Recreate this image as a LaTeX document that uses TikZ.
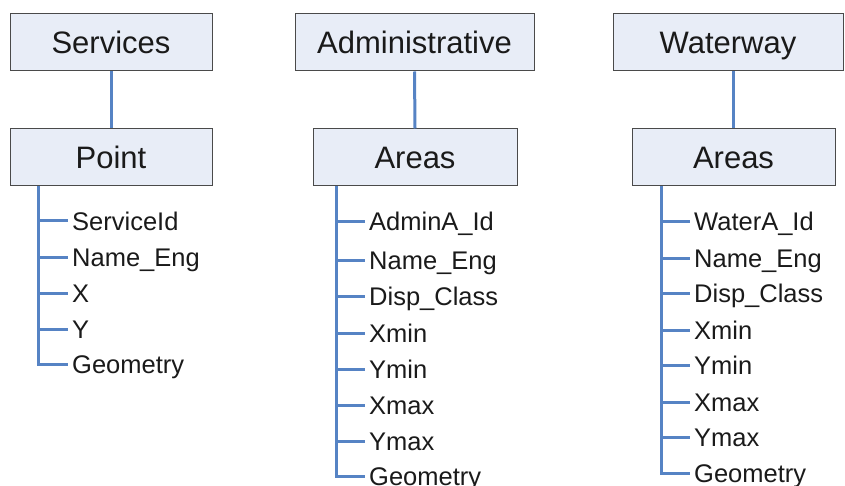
\documentclass[tikz,border=0pt]{standalone}
\usepackage{fontspec}
\setmainfont{Liberation Sans}
\definecolor{boxfill}{HTML}{E8EDF7}
\definecolor{boxline}{HTML}{4A4A4A}
\definecolor{linkblue}{HTML}{5683C4}
\definecolor{ink}{HTML}{1A1A1A}
\begin{document}
\begin{tikzpicture}[x=1pt,y=-1pt,
  headbox/.style={draw=boxline,line width=1pt,fill=boxfill,minimum width=202pt,minimum height=57pt,
    text=ink,font=\fontsize{31}{36}\selectfont,text height=22.2pt,text depth=0pt,inner sep=0pt},
  field/.style={anchor=west,text=ink,font=\fontsize{25.5}{30}\selectfont,text height=18.3pt,text depth=0pt,inner sep=0pt,xshift=4pt},
  link/.style={draw=linkblue,line width=3pt},
  twig/.style={draw=linkblue,line width=3pt,line cap=butt}]
\useasboundingbox (0,0) rectangle (845,486);

% Services / Point
\node[headbox] (svc) at (111,42.5) {Services};
\node[headbox] (pt) at (111,157.5) {Point};
\draw[link] (svc.south) -- (pt.north);
\coordinate (ptT) at (38,186);
\node[field] (p1) at (68,221) {ServiceId};
\node[field] (p2) at (68,257) {Name\_Eng};
\node[field] (p3) at (68,293) {X};
\node[field] (p4) at (68,329) {Y};
\node[field] (p5) at (68,364.5) {Geometry};
\draw[link] (ptT) -- (ptT |- p5.west) -- ([xshift=-4pt]p5.west);
\foreach \n in {p1,p2,p3,p4}
  \draw[twig] (ptT |- \n.west) -- ([xshift=-4pt]\n.west);

% Administrative / Areas
\node[headbox,minimum width=239pt] (adm) at (414.5,42.5) {Administrative};
\node[headbox,minimum width=204pt] (aa) at (415,157.5) {Areas};
\draw[link] (adm.south) -- (aa.north);
\coordinate (aaT) at (336,186);
\node[field] (a1) at (365,221.5) {AdminA\_Id};
\node[field] (a2) at (365,260) {Name\_Eng};
\node[field] (a3) at (365,296.5) {Disp\_Class};
\node[field] (a4) at (365,333) {Xmin};
\node[field] (a5) at (365,369) {Ymin};
\node[field] (a6) at (365,405) {Xmax};
\node[field] (a7) at (365,441) {Ymax};
\node[field] (a8) at (365,476.5) {Geometry};
\draw[link] (aaT) -- (aaT |- a8.west) -- ([xshift=-4pt]a8.west);
\foreach \n in {a1,a2,a3,a4,a5,a6,a7}
  \draw[twig] (aaT |- \n.west) -- ([xshift=-4pt]\n.west);

% Waterway / Areas
\node[headbox,minimum width=230pt] (ww) at (728,42.5) {Waterway};
\node[headbox,minimum width=203pt] (wa) at (733.5,157.5) {Areas};
\draw[link] (ww.south -| wa.north) -- (wa.north);
\coordinate (waT) at (661,186);
\node[field] (w1) at (690,221.5) {WaterA\_Id};
\node[field] (w2) at (690,258) {Name\_Eng};
\node[field] (w3) at (690,293.5) {Disp\_Class};
\node[field] (w4) at (690,330) {Xmin};
\node[field] (w5) at (690,365.5) {Ymin};
\node[field] (w6) at (690,402) {Xmax};
\node[field] (w7) at (690,437.5) {Ymax};
\node[field] (w8) at (690,473.5) {Geometry};
\draw[link] (waT) -- (waT |- w8.west) -- ([xshift=-4pt]w8.west);
\foreach \n in {w1,w2,w3,w4,w5,w6,w7}
  \draw[twig] (waT |- \n.west) -- ([xshift=-4pt]\n.west);
\end{tikzpicture}
\end{document}
